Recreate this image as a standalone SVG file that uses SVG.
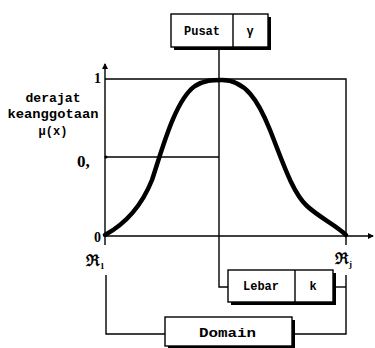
<svg xmlns="http://www.w3.org/2000/svg" width="375" height="348" viewBox="0 0 375 348">
<defs>
<style>
.ln{stroke:#000;stroke-width:1.4;fill:none}
.box{fill:#fff;stroke:#000;stroke-width:1.4}
.sh{fill:#000}
.t{font-family:"Liberation Mono","Courier New",monospace;font-weight:bold;font-size:12px;fill:#000}
.lbl{font-family:"Liberation Serif","Times New Roman",serif;font-weight:bold;fill:#000}
</style>
<marker id="arr" markerWidth="6" markerHeight="6" refX="5" refY="3" orient="auto" markerUnits="userSpaceOnUse">
<path d="M0,0 L6,3 L0,6 Z" fill="#000"/>
</marker>
</defs>
<rect width="375" height="348" fill="#fff"/>
<g id="connectors">
<line class="ln" x1="105" y1="245" x2="105" y2="64" marker-end="url(#arr)"/>
<line class="ln" x1="105" y1="236" x2="373" y2="236" marker-end="url(#arr)"/>
<polyline class="ln" points="105,79 346,79 346,245"/>
<line class="ln" x1="105" y1="157" x2="219" y2="157"/>
<circle cx="106" cy="157" r="1.6" fill="#000"/>
<polyline class="ln" points="219,47 219,287 228,287"/>
<polyline class="ln" points="333,287 346,287"/>
<polyline class="ln" points="346,275 346,334 292,334"/>
<polyline class="ln" points="106,275 106,334 165,334"/>
</g>
<g id="curve">
<path d="M105,235 C125,224 142,205 152,180 C162,150 175,100 195,86 C205,80 212,80 222,80 C245,80 258,100 270,130 C282,160 292,192 307,206 C320,218 336,225 346,235" fill="none" stroke="#000" stroke-width="4.5" stroke-linecap="round"/>
</g>
<g id="pusat">
<rect class="sh" x="174" y="17" width="97" height="33"/>
<rect class="box" x="171" y="14" width="97" height="33"/>
<line class="ln" x1="233" y1="14" x2="233" y2="47"/>
<text class="t" x="202" y="35" text-anchor="middle">Pusat</text>
<text class="t" x="250" y="35" text-anchor="middle">γ</text>
</g>
<g id="lebar">
<rect class="sh" x="231" y="273" width="105" height="32"/>
<rect class="box" x="228" y="270" width="105" height="32"/>
<line class="ln" x1="295" y1="270" x2="295" y2="302"/>
<text class="t" x="261" y="290" text-anchor="middle">Lebar</text>
<text class="t" x="313" y="290" text-anchor="middle">k</text>
</g>
<g id="domain">
<rect class="sh" x="168" y="320" width="127" height="29"/>
<rect class="box" x="165" y="317" width="127" height="29"/>
<text class="t" x="199" y="337" font-size="14" textLength="57" lengthAdjust="spacingAndGlyphs">Domain</text>
</g>
<g id="labels">
<text class="t" x="53" y="102" text-anchor="middle" font-size="12" textLength="55" lengthAdjust="spacingAndGlyphs">derajat</text>
<text class="t" x="53" y="118" text-anchor="middle" font-size="12" textLength="91" lengthAdjust="spacingAndGlyphs">keanggotaan</text>
<text class="t" x="53" y="135" text-anchor="middle" font-size="12">μ(x)</text>
<text class="lbl" x="94" y="83" font-size="14">1</text>
<text class="lbl" x="77" y="167" font-size="17">0,</text>
<text class="lbl" x="94" y="242" font-size="14">0</text>
<text class="lbl" x="86" y="266" font-size="16">ℜ<tspan font-size="9" dy="3">1</tspan></text>
<text class="lbl" x="335" y="264" font-size="16">ℜ<tspan font-size="9" dy="3">j</tspan></text>
</g>
</svg>
